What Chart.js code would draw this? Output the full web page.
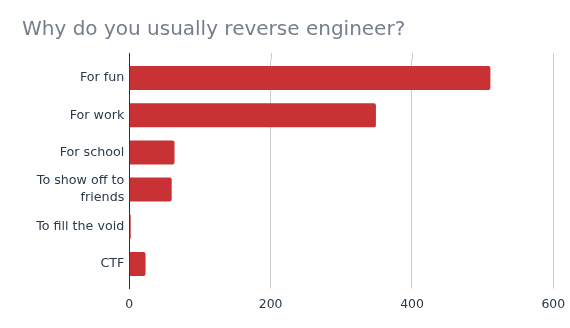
<!DOCTYPE html>
<html>
<head>
<meta charset="utf-8">
<script src="https://cdn.jsdelivr.net/npm/chart.js@4/dist/chart.umd.min.js"></script>
<style>
    html, body { margin: 0; padding: 0; background: #fff; }
    #wrap { width: 570px; height: 328px; position: relative; }
</style>
</head>
<body>
<div id="wrap"><canvas id="chart"></canvas></div>
<script>
const titleText = 'Why do you usually reverse engineer?';
const reasons = ['For fun', 'For work', 'For school', ['To show off to', 'friends'], 'To fill the void', 'CTF'];
const counts = [511, 349, 64, 60, 2, 23];
const xTicks = [0, 200, 400, 600];

// extend grid lines and the zero axis a few px above/below the plot area
const gridExtend = {
    id: 'gridExtend',
    beforeDatasetsDraw(chart) {
        const { ctx, chartArea, scales } = chart;
        ctx.save();
        ctx.lineWidth = 1;
        xTicks.forEach(v => {
            const x = Math.round(scales.x.getPixelForValue(v)) + 0.5;
            ctx.strokeStyle = v === 0 ? '#333333' : '#cccccc';
            ctx.beginPath();
            ctx.moveTo(x, chartArea.top - 6.5);
            ctx.lineTo(x, chartArea.top);
            if (v === 0) {
                ctx.moveTo(x, chartArea.bottom);
                ctx.lineTo(x, chartArea.bottom + 6.5);
            }
            ctx.stroke();
        });
        ctx.restore();
    }
};

new Chart(document.getElementById('chart'), {
    type: 'bar',
    data: {
        labels: reasons,
        datasets: [{
            data: counts,
            backgroundColor: '#c93234',
            borderRadius: 2,
            barPercentage: 0.645,
            categoryPercentage: 1
        }]
    },
    options: {
        indexAxis: 'y',
        responsive: true,
        maintainAspectRatio: false,
        animation: false,
        devicePixelRatio: 1,
        layout: { padding: { left: 22, right: 16.7, top: 0, bottom: 0 } },
        plugins: {
            legend: { display: false },
            tooltip: { enabled: false },
            title: {
                display: true,
                text: titleText,
                align: 'start',
                color: '#757f8a',
                font: { family: 'DejaVu Sans', size: 20, weight: 'normal' },
                padding: { top: 18, bottom: 17.4 }
            }
        },
        scales: {
            x: {
                min: 0,
                max: 600,
                afterFit: s => { s.height = 45.4; s.paddingLeft = 0; s.paddingRight = 0; },
                afterBuildTicks: s => { s.ticks = xTicks.map(v => ({ value: v })); },
                grid: { color: '#cccccc', tickColor: '#cccccc', tickLength: 6, drawTicks: true },
                border: { display: false },
                ticks: {
                    color: '#2b3a4a',
                    padding: 9,
                    font: { family: 'DejaVu Sans', size: 12.4 }
                }
            },
            y: {
                afterFit: s => { s.width = 107.3; },
                grid: { display: false, drawTicks: false },
                border: { display: true, color: '#333333', width: 1 },
                ticks: {
                    autoSkip: false,
                    color: '#2b3a4a',
                    padding: 5,
                    font: { family: 'DejaVu Sans', size: 12.7, lineHeight: 1.35 }
                }
            }
        }
    },
    plugins: [gridExtend]
});
</script>
</body>
</html>
